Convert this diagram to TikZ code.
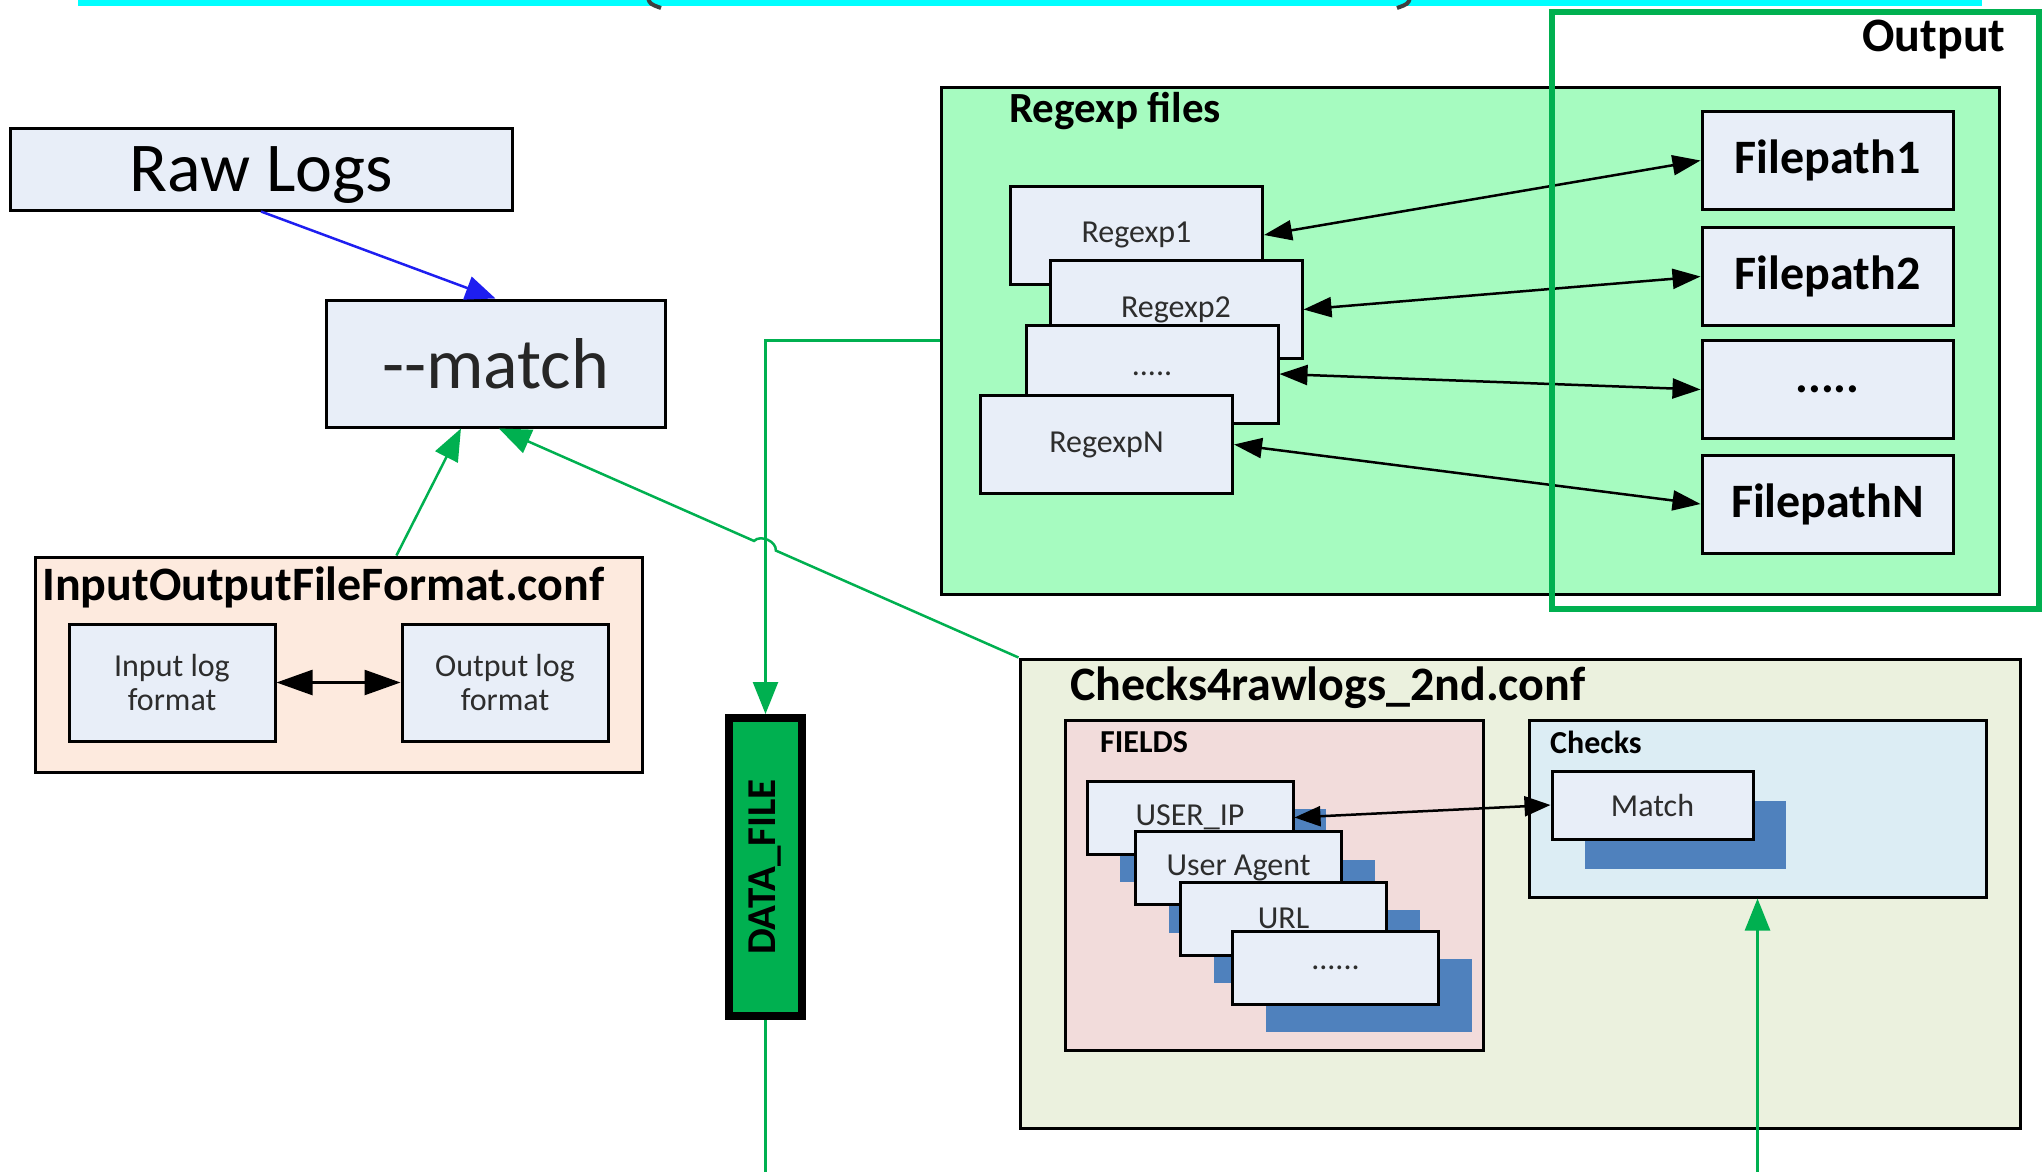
\documentclass[tikz,border=0pt]{standalone}
\usepackage{fontspec}
\setmainfont{Carlito}
\usetikzlibrary{arrows.meta,calc,shadows}

\definecolor{barcyan}{RGB}{0,255,255}
\definecolor{boxfill}{RGB}{232,238,248}
\definecolor{peach}{RGB}{253,234,222}
\definecolor{regfill}{RGB}{166,251,192}
\definecolor{chkfill}{RGB}{235,241,222}
\definecolor{fieldfill}{RGB}{242,220,219}
\definecolor{checksfill}{RGB}{220,237,244}
\definecolor{shadowblue}{RGB}{79,129,189}
\definecolor{linegreen}{RGB}{0,176,80}
\definecolor{lineblue}{RGB}{30,30,240}
\definecolor{labelgray}{RGB}{45,45,45}

\newcommand{\fivedots}{.....}
\newcommand{\sixdots}{......}

\begin{document}
\begin{tikzpicture}[x=1pt, y=-1pt,
	box/.style={draw=black, line width=3pt, fill=boxfill, inner sep=0pt},
	panel/.style={draw=black, line width=3pt, inner sep=0pt},
	lbl/.style={font=\fontsize{32}{34}\selectfont, text=labelgray},
	paneltitle/.style={anchor=west, inner sep=0pt, font=\bfseries\fontsize{48}{52}\selectfont},
	subtitle/.style={anchor=west, inner sep=0pt, font=\bfseries\fontsize{32}{34}\selectfont},
	regbox/.style={box, lbl, minimum width=252pt, minimum height=98pt},
	pathbox/.style={box, minimum width=251pt, minimum height=98pt, font=\bfseries\fontsize{48}{52}\selectfont},
	fieldbox/.style={box, lbl, minimum width=206pt, minimum height=73pt,
		drop shadow={shadow xshift=33pt, shadow yshift=-28pt, fill=shadowblue, opacity=1}},
	dblarrow/.style={line width=2.5pt, {Triangle[length=28pt,width=20pt]}-{Triangle[length=28pt,width=20pt]}},
	greenline/.style={draw=linegreen, line width=2.5pt},
	greenarrow/.style={greenline, -{Triangle[length=32pt,width=25pt]}},
]
\useasboundingbox (0,0) rectangle (2042,1172);

% cut off title bar
\fill[barcyan] (78,0) rectangle (1982,6);
\draw[line width=4pt, black!75] (648,-2) .. controls (650,4) .. (661,8);
\draw[line width=4pt, black!75] (1410,-2) .. controls (1408,4) .. (1397,8);

% raw logs and --match
\node[box, minimum width=502pt, minimum height=82pt, text depth=0pt, font=\fontsize{70}{80}\selectfont] (raw) at (261,169) {Raw Logs};
\node[box, minimum width=339pt, minimum height=127pt, font=\fontsize{72}{80}\selectfont, text=black!85] (match) at (495.5,363.5) {-{}-match};
\draw[line width=2.5pt, lineblue, -{Triangle[length=30pt,width=24pt]}] (raw.south) -- (match.north);

% input/output format
\node[panel, fill=peach, minimum width=607pt, minimum height=215pt] (ioconf) at (338.5,664.5) {};
\node[paneltitle] at (42,587) {InputOutputFileFormat.conf};
\node[box, lbl, align=center, minimum width=206pt, minimum height=117pt] (inlog) at (172,682.5) {Input log\\format};
\node[box, lbl, align=center, minimum width=206pt, minimum height=117pt] (outlog) at (505,682.5) {Output log\\format};
\draw[line width=2.5pt, {Triangle[length=36pt,width=25pt]}-{Triangle[length=36pt,width=25pt]}] (inlog.east) -- (outlog.west);
\draw[greenarrow] (ioconf.62) -- (match.242);

% regexp files
\node[panel, fill=regfill, minimum width=1058pt, minimum height=507pt] (regfiles) at (1470,340.5) {};
\node[paneltitle, font=\bfseries\fontsize{43}{48}\selectfont] at (1009,111) {Regexp files};
\foreach \n/\x/\y/\t in {1/1136.5/235/Regexp1, 2/1176/309.5/Regexp2, dots/1152/374/\fivedots, N/1106.5/444.5/RegexpN} {
	\node[regbox] (re\n) at (\x,\y) {\t};
}
\foreach \n/\y/\t in {1/160.5/Filepath1, 2/276.5/Filepath2, dots/389.5/\fivedots, N/504/FilepathN} {
	\node[pathbox] (fp\n) at (1827.5,\y) {\t};
}
\foreach \n in {1,2,dots,N} {
	\draw[dblarrow] (re\n.east) -- (fp\n.west);
}

% output frame
\node[draw=linegreen, line width=6pt, inner sep=0pt, minimum width=487pt, minimum height=597pt] (output) at (1795.5,310.5) {};
\node[font=\bfseries\fontsize{48}{52}\selectfont] at (1934,40) {Output};

% data file
\node[draw=black, line width=8pt, fill=linegreen, inner sep=0pt, minimum width=73pt, minimum height=298pt,
	font=\bfseries\fontsize{41}{44}\selectfont] (datafile) at (765.5,867) {\rotatebox{90}{DATA\_FILE}};
\coordinate (bottomedge) at (0,1172);
\draw[greenarrow] (regfiles.west) -| (datafile.north);
\draw[greenline] (datafile.south) -- (datafile.south |- bottomedge);

% checks config
\node[panel, fill=chkfill, minimum width=1000pt, minimum height=469pt] (chkconf) at (1520,893.5) {};
\node[paneltitle] at (1070,688) {Checks4rawlogs\_2nd.conf};
\node[panel, fill=fieldfill, minimum width=418pt, minimum height=330pt] (fields) at (1274,885) {};
\node[subtitle] at (1100,742) {FIELDS};
\foreach \n/\x/\y/\t in {user/1190/817.5/USER\_IP, agent/1238.5/868/User Agent, url/1283.5/918.5/URL, dots/1335.5/967.5/\sixdots} {
	\node[fieldbox] (f\n) at (\x,\y) {\t};
}
\node[panel, fill=checksfill, minimum width=457pt, minimum height=177pt] (checks) at (1757.5,808.5) {};
\node[subtitle] at (1550,742) {Checks};
\node[box, lbl, minimum width=201pt, minimum height=68pt,
	drop shadow={shadow xshift=33pt, shadow yshift=-30pt, fill=shadowblue, opacity=1}] (mcheck) at (1652.5,805) {Match};
\draw[line width=2.5pt, {Triangle[length=26pt,width=20pt]}-{Triangle[length=26pt,width=20pt]}] (fuser.east) -- (mcheck.west);

% links back to --match and into checks
\draw[greenarrow] (chkconf.north west) -- ($(chkconf.north west)!0.467!(match.273)$)
	to[out=86,in=46] ($(chkconf.north west)!0.509!(match.273)$) -- (match.273);
\draw[greenarrow] (checks.south |- bottomedge) -- (checks.south);

\end{tikzpicture}
\end{document}
